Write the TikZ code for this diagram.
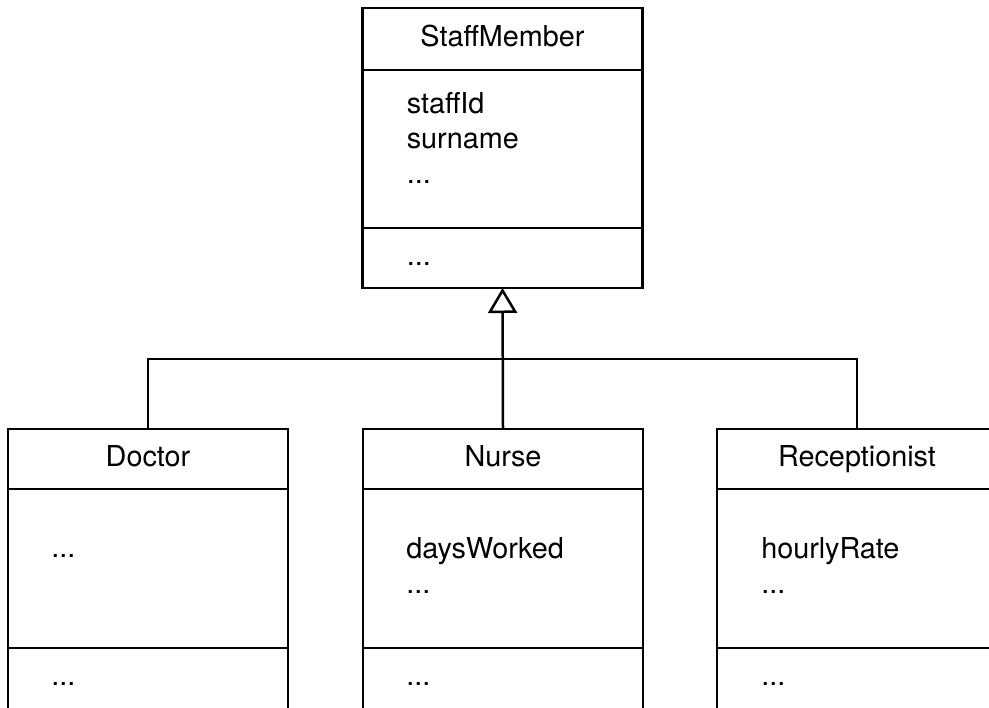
\documentclass[tikz,border=0pt]{standalone}
\usepackage{fontspec}
\setmainfont{TeX Gyre Heros}
\usetikzlibrary{positioning,arrows.meta,calc}

\begin{document}
\begin{tikzpicture}[x=0.5pt, y=-0.5pt, line width=1.25pt,
        every node/.style={font=\fontsize{14.4}{17.5}\selectfont},
        compart/.style={draw, minimum width=140pt, inner sep=0pt, outer sep=0pt, anchor=north},
        classname/.style={compart, text height=10.5pt, text depth=3pt},
        member/.style={align=left, anchor=base west, inner sep=0pt}]
        \useasboundingbox (0,0) rectangle (989,707);
        \clip (0,0) rectangle (989,707);

        \node[classname, minimum height=31pt] (staff) at (502.5,8) {StaffMember};
        \node[compart, minimum height=79pt, below=0pt of staff] (staffattr) {};
        \node[compart, minimum height=30pt, below=0pt of staffattr] (staffops) {};
        \node[member] (staffattrtext) at ($(staffattr.north west)+(43,113)$) {staffId\\surname\\...};
        \node[member] (staffopstext) at ($(staffops.north west)+(43,37)$) {...};

        \node[classname, minimum height=30pt] (doctor) at (148,429) {Doctor};
        \node[compart, minimum height=79.5pt, below=0pt of doctor] (doctorattr) {};
        \node[compart, minimum height=80pt, below=0pt of doctorattr] (doctorops) {};
        \node[member] (doctorattrtext) at ($(doctorattr.north west)+(42,68)$) {...};
        \node[member] (doctoropstext) at ($(doctorops.north west)+(42,37)$) {...};

        \node[classname, minimum height=30pt] (nurse) at (503,429) {Nurse};
        \node[compart, minimum height=79.5pt, below=0pt of nurse] (nurseattr) {};
        \node[compart, minimum height=80pt, below=0pt of nurseattr] (nurseops) {};
        \node[member] (nurseattrtext) at ($(nurseattr.north west)+(42,104)$) {daysWorked\\...};
        \node[member] (nurseopstext) at ($(nurseops.north west)+(42,37)$) {...};

        \node[classname, minimum height=30pt] (reception) at (857,429) {Receptionist};
        \node[compart, minimum height=79.5pt, below=0pt of reception] (receptionattr) {};
        \node[compart, minimum height=80pt, below=0pt of receptionattr] (receptionops) {};
        \node[member] (receptionattrtext) at ($(receptionattr.north west)+(43,104)$) {hourlyRate\\...};
        \node[member] (receptionopstext) at ($(receptionops.north west)+(43,37)$) {...};

        \coordinate (split) at ($(staffops.south)+(0,71)$);
        \draw[-{Triangle[open, length=12.5pt, width=14.5pt]}] (nurse.north) -- (staffops.south);
        \draw (doctor.north) |- (split) -| (reception.north);
    \end{tikzpicture}
\end{document}
